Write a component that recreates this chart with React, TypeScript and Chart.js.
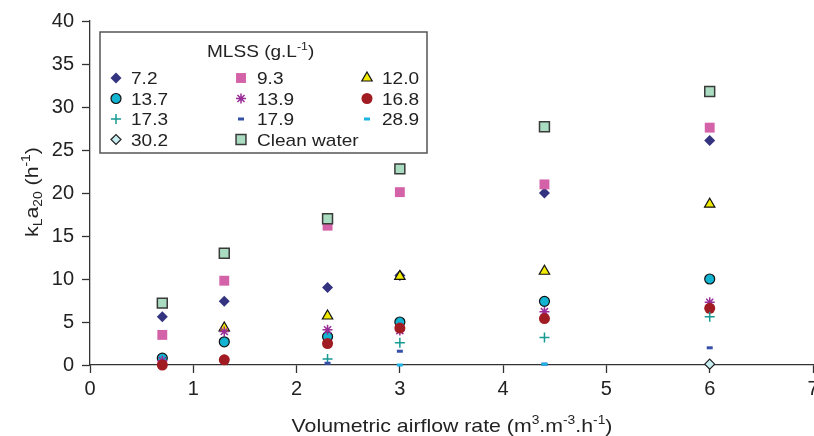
import React, { useEffect, useRef } from "react";
import { Chart, registerables } from "chart.js";
import { drawPoint } from "chart.js/helpers";

Chart.register(...registerables);

// ---- data ----
const airflow = [0.7, 1.3, 2.3, 3.0, 4.4, 6.0];
const xTicks = [0, 1, 2, 3, 4, 5, 6, 7];
const yTicks = [0, 5, 10, 15, 20, 25, 30, 35, 40];

const mlss72 = [5.6, 7.4, 9.0, 10.4, 20.0, 26.1];
const mlss93 = [3.5, 9.8, 16.2, 20.1, 21.0, 27.6];
const mlss120x = [1.3, 2.3, 3.0, 4.4, 6.0];
const mlss120 = [4.3, 5.7, 10.3, 10.9, 18.7];
const mlss137 = [0.8, 2.7, 3.3, 5.0, 7.4, 10.0];
const mlss139 = [0.5, 3.9, 4.1, 4.0, 6.2, 7.3];
const mlss168 = [0.0, 0.6, 2.5, 4.3, 5.4, 6.6];
const mlss173x = [2.3, 3.0, 4.4, 6.0];
const mlss173 = [0.7, 2.6, 3.2, 5.6];
const mlss179x = [2.3, 3.0, 4.4, 6.0];
const mlss179 = [0.2, 1.6, 0.1, 2.0];
const mlss289x = [3.0, 4.4];
const mlss289 = [0.0, 0.1];
const mlss302x = [6.0];
const mlss302 = [0.1];
const cleanWater = [7.2, 13.0, 17.0, 22.8, 27.7, 31.8];

const seriesLabels = ["7.2", "9.3", "12.0", "13.7", "13.9", "16.8", "17.3", "17.9", "28.9", "30.2", "Clean water"];

const FONT = '"Liberation Sans", Arial, Helvetica, sans-serif';
const STRETCH = 1.12;

type Part = { t: string; s?: "sub" | "sup" };

function partFont(size: number, p: Part) {
  return `${p.s ? size * 0.65 : size}px ${FONT}`;
}
function measureRich(ctx: CanvasRenderingContext2D, parts: Part[], size: number) {
  let w = 0;
  for (const p of parts) {
    ctx.font = partFont(size, p);
    w += ctx.measureText(p.t).width;
  }
  return w;
}
function drawRich(
  ctx: CanvasRenderingContext2D,
  parts: Part[],
  x: number,
  y: number,
  size: number,
  align: "left" | "center",
  rotate = false
) {
  ctx.save();
  ctx.translate(x, y);
  if (rotate) ctx.rotate(-Math.PI / 2);
  ctx.scale(STRETCH, 1);
  const w = measureRich(ctx, parts, size);
  let cx = align === "center" ? -w / 2 : 0;
  ctx.fillStyle = "#222";
  ctx.textBaseline = "alphabetic";
  ctx.textAlign = "left";
  for (const p of parts) {
    ctx.font = partFont(size, p);
    const dy = p.s === "sup" ? -size * 0.4 : p.s === "sub" ? size * 0.22 : 0;
    ctx.fillText(p.t, cx, dy);
    cx += ctx.measureText(p.t).width;
  }
  ctx.restore();
}

type Sty = {
  pointStyle: any;
  radius: number;
  bg: string;
  border: string;
  bw: number;
};

const styles: Sty[] = [
  { pointStyle: "rectRot", radius: 5.5, bg: "#34337f", border: "#34337f", bw: 0 },
  { pointStyle: "rect", radius: 7, bg: "#d462a8", border: "#d462a8", bw: 0 },
  { pointStyle: "triangle", radius: 6, bg: "#f2ea00", border: "#111", bw: 1.2 },
  { pointStyle: "circle", radius: 5, bg: "#12b4d2", border: "#111", bw: 1.2 },
  { pointStyle: "star", radius: 5, bg: "#9a2c98", border: "#9a2c98", bw: 1.5 },
  { pointStyle: "circle", radius: 5.5, bg: "#a11c22", border: "#a11c22", bw: 0 },
  { pointStyle: "cross", radius: 5, bg: "#179a94", border: "#179a94", bw: 1.5 },
  { pointStyle: "line", radius: 3, bg: "#3550a8", border: "#3550a8", bw: 3 },
  { pointStyle: "line", radius: 3, bg: "#1fb2e4", border: "#1fb2e4", bw: 3 },
  { pointStyle: "rectRot", radius: 5, bg: "#c8eef2", border: "#222", bw: 1.2 },
  { pointStyle: "rect", radius: 7, bg: "#a9dcc0", border: "#3a3a3a", bw: 1.5 },
];

function pts(xs: number[], ys: number[]) {
  return xs.map((x, i) => ({ x, y: ys[i] }));
}

const legendPlugin = {
  id: "customLegendTitles",
  afterDraw(chart: any) {
    const ctx: CanvasRenderingContext2D = chart.ctx;
    // legend box
    ctx.save();
    ctx.fillStyle = "#fff";
    ctx.fillRect(100, 32, 327, 121);
    ctx.strokeStyle = "#555";
    ctx.lineWidth = 1.5;
    ctx.strokeRect(100, 32, 327, 121);
    ctx.restore();

    drawRich(ctx, [{ t: "MLSS (g.L" }, { t: "-1", s: "sup" }, { t: ")" }], 207, 57, 17, "left");

    const colMarker = [116, 241, 367];
    const colText = [131, 257, 382];
    const rowY = [78, 98.5, 119, 139.5];
    seriesLabels.forEach((lab, i) => {
      const r = Math.floor(i / 3);
      const c = i % 3;
      const st = styles[i];
      ctx.save();
      ctx.fillStyle = st.bg;
      ctx.strokeStyle = st.border;
      ctx.lineWidth = st.bw;
      drawPoint(ctx, { pointStyle: st.pointStyle, rotation: 0, radius: st.radius, borderWidth: st.bw } as any, colMarker[c], rowY[r]);
      ctx.restore();
      drawRich(ctx, [{ t: lab }], colText[c], rowY[r] + 6, 17, "left");
    });

    // axis titles
    drawRich(
      ctx,
      [{ t: "Volumetric airflow rate (m" }, { t: "3", s: "sup" }, { t: ".m" }, { t: "-3", s: "sup" }, { t: ".h" }, { t: "-1", s: "sup" }, { t: ")" }],
      452,
      432,
      19,
      "center"
    );
    drawRich(
      ctx,
      [{ t: "k" }, { t: "L", s: "sub" }, { t: "a" }, { t: "20", s: "sub" }, { t: " (h" }, { t: "-1", s: "sup" }, { t: ")" }],
      38,
      192,
      19,
      "center",
      true
    );
  },
};

export default function App() {
  const ref = useRef<HTMLCanvasElement | null>(null);
  useEffect(() => {
    if (!ref.current) return;
    const dataArrays: { x: number; y: number }[][] = [
      pts(airflow, mlss72),
      pts(airflow, mlss93),
      pts(mlss120x, mlss120),
      pts(airflow, mlss137),
      pts(airflow, mlss139),
      pts(airflow, mlss168),
      pts(mlss173x, mlss173),
      pts(mlss179x, mlss179),
      pts(mlss289x, mlss289),
      pts(mlss302x, mlss302),
      pts(airflow, cleanWater),
    ];
    const datasets = dataArrays.map((d, i) => ({
      label: seriesLabels[i],
      data: d,
      showLine: false,
      pointStyle: styles[i].pointStyle,
      pointRadius: styles[i].radius,
      pointHoverRadius: styles[i].radius,
      pointBackgroundColor: styles[i].bg,
      pointBorderColor: styles[i].border,
      pointBorderWidth: styles[i].bw,
      backgroundColor: styles[i].bg,
      borderColor: styles[i].border,
      order: -i,
      clip: false as any,
    }));
    const tickFont = { family: FONT, size: 20 };
    const chart = new Chart(ref.current, {
      type: "scatter",
      data: { datasets },
      options: {
        animation: false,
        responsive: false,
        devicePixelRatio: 1,
        layout: { padding: { top: 21, right: 17, left: 0, bottom: 0 } },
        plugins: { legend: { display: false }, tooltip: { enabled: false } },
        scales: {
          x: {
            type: "linear",
            min: 0,
            max: 7,
            afterFit: (s: any) => {
              s.height = 71;
            },
            afterBuildTicks: (s: any) => {
              s.ticks = xTicks.map((v) => ({ value: v }));
            },
            ticks: { font: tickFont, color: "#222", padding: 4, maxRotation: 0 },
            grid: { drawOnChartArea: false, drawTicks: true, tickLength: 8, color: "#333", tickWidth: 1.3 },
            border: { display: true, color: "#333", width: 1.3 },
          },
          y: {
            type: "linear",
            min: 0,
            max: 40,
            afterFit: (s: any) => {
              s.width = 90;
            },
            afterBuildTicks: (s: any) => {
              s.ticks = yTicks.map((v) => ({ value: v }));
            },
            ticks: { font: tickFont, color: "#222", padding: 8 },
            grid: { drawOnChartArea: false, drawTicks: true, tickLength: 8, color: "#333", tickWidth: 1.3 },
            border: { display: true, color: "#333", width: 1.3 },
          },
        },
      },
      plugins: [legendPlugin],
    });
    return () => chart.destroy();
  }, []);
  return (
    <div style={{ position: "fixed", left: 0, top: 0, width: 814, height: 436, overflow: "hidden", background: "#fff" }}>
      <canvas ref={ref} width={830} height={436} style={{ display: "block", width: 830, height: 436 }} />
    </div>
  );
}
